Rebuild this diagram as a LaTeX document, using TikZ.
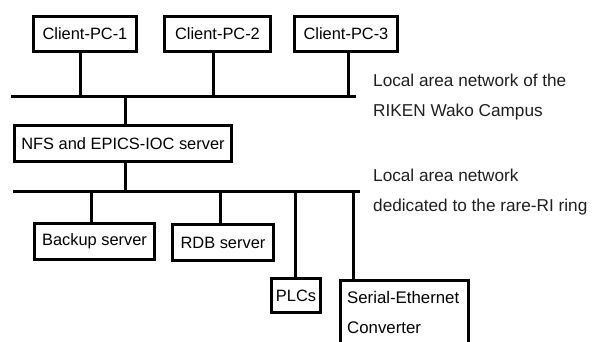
\documentclass[tikz,border=0pt]{standalone}
\usepackage{fontspec}
\setmainfont{Liberation Sans}
\begin{document}
\begin{tikzpicture}[x=1pt,y=-1pt,
  box/.style={draw,line width=3pt,inner sep=0pt,font=\fontsize{16.4}{30}\selectfont},
  lbl/.style={anchor=west,align=left,inner sep=0pt,text=black!88,font=\fontsize{17.2}{30}\selectfont},
  bus/.style={line width=3pt}]
\clip (0,0) rectangle (592,342);
\fill[white] (0,0) rectangle (592,342);
\node[box,minimum width=103,minimum height=35] (pc1) at (85,34) {Client-PC-1};
\node[box,minimum width=106,minimum height=35] (pc2) at (217.5,34) {Client-PC-2};
\node[box,minimum width=103,minimum height=35] (pc3) at (346,34) {Client-PC-3};
\coordinate (l1a) at (11,97);
\coordinate (l1b) at (356,97);
\draw[bus] (l1a) -- (l1b);
\coordinate (c1) at (80,97);
\coordinate (c2) at (213,97);
\coordinate (c3) at (348,97);
\draw[bus] (c1) -- (c1 |- pc1.south);
\draw[bus] (c2) -- (c2 |- pc2.south);
\draw[bus] (c3) -- (c3 |- pc3.south);
\node[box,minimum width=217,minimum height=36] (nfs) at (123,143.5) {NFS and EPICS-IOC server};
\coordinate (c4) at (125,97);
\draw[bus] (c4) -- (c4 |- nfs.north);
\coordinate (l2a) at (13,192);
\coordinate (l2b) at (360,192);
\draw[bus] (l2a) -- (l2b);
\coordinate (c5) at (125,192);
\draw[bus] (c5) -- (c5 |- nfs.south);
\node[box,minimum width=120,minimum height=36] (bak) at (94.5,241.5) {Backup server};
\node[box,minimum width=101,minimum height=36] (rdb) at (223,242.5) {RDB server};
\node[box,minimum width=49,minimum height=34] (plc) at (296,295.5) {PLCs};
\node[box,minimum width=128,minimum height=80,anchor=north west,inner sep=0pt] (ser) at (338.5,278.5) {};
\node[lbl,text=black,font=\fontsize{16.8}{30}\selectfont] (sert) at (347,312) {Serial-Ethernet\\Converter};
\coordinate (d1) at (91,192);
\coordinate (d2) at (220,192);
\coordinate (d3) at (295,192);
\coordinate (d4) at (353,192);
\draw[bus] (d1) -- (d1 |- bak.north);
\draw[bus] (d2) -- (d2 |- rdb.north);
\draw[bus] (d3) -- (d3 |- plc.north);
\draw[bus] (d4) -- (d4 |- ser.north);
\node[lbl] (lan1) at (373,97.5) {Local area network of the\\RIKEN Wako Campus};
\node[lbl] (lan2) at (373,192.5) {Local area network\\dedicated to the rare-RI ring};
\end{tikzpicture}
\end{document}
